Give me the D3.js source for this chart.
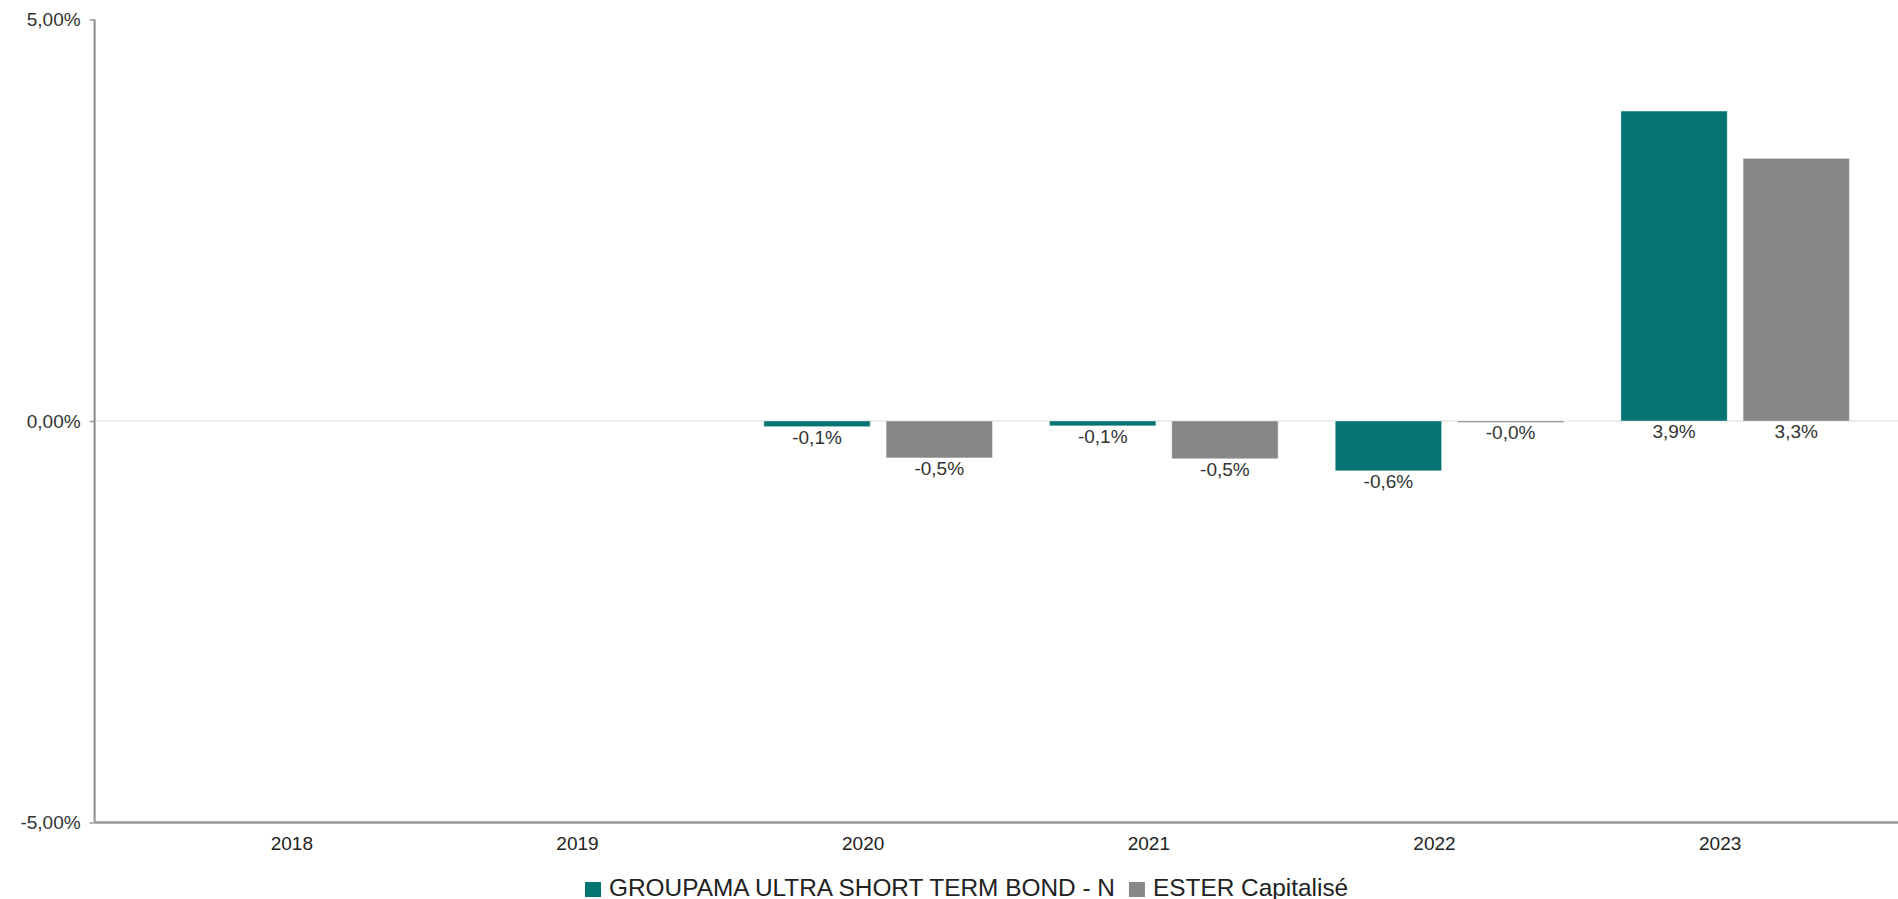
<!DOCTYPE html>
<html>
<head>
<meta charset="utf-8">
<script src="https://cdn.jsdelivr.net/npm/d3@7"></script>
<style>
  html, body { margin: 0; padding: 0; background: #fff; }
  svg { display: block; font-family: Arial, "Liberation Sans", sans-serif; }
</style>
</head>
<body>
<svg id="chart" width="1898" height="899"></svg>
<script>
// data
const years = ['2018', '2019', '2020', '2021', '2022', '2023']
const seriesNames = ['GROUPAMA ULTRA SHORT TERM BOND - N', 'ESTER Capitalisé']
const fundValues = [null, null, -0.07, -0.06, -0.62, 3.86]
const benchValues = [null, null, -0.46, -0.47, -0.01, 3.27]
const yTicks = [-5, 0, 5]
const colors = ['#037472', '#878787']

const width = 1898
const height = 899
const axisX = 94.6
const plotTop = 19.5
const plotBottom = 822.5

const fr = d3.formatLocale({ decimal: ',', thousands: ' ', grouping: [3], currency: ['', '€'], minus: '-' })
const tickFormat = v => fr.format('.2f')(v) + '%'
// keep the sign on tiny negatives, e.g. -0,0%
const valueFormat = v => (v < 0 ? '-' : '') + fr.format('.1f')(Math.abs(v)) + '%'

const rows = years.map((year, i) => ({
  year,
  values: [fundValues[i], benchValues[i]]
}))

const svg = d3.select('#chart')

const y = d3.scaleLinear().domain([-5, 5]).range([plotBottom, plotTop])

const x0 = d3.scaleBand()
  .domain(years)
  .range([164, 1878])
  .paddingInner(0.2)
  .paddingOuter(0.1)

const x1 = d3.scaleBand()
  .domain(d3.range(seriesNames.length))
  .range([0, x0.bandwidth()])
  .paddingInner(0.13)

// zero grid line
svg.append('line')
  .attr('x1', axisX).attr('x2', width)
  .attr('y1', y(0)).attr('y2', y(0))
  .attr('stroke', '#e6e6e6')
  .attr('stroke-width', 1.5)

// y axis
const yAxis = svg.append('g')
  .attr('transform', `translate(${axisX},0)`)
  .call(d3.axisLeft(y).tickValues(yTicks).tickFormat(tickFormat).tickSize(5).tickPadding(9))

yAxis.select('.domain').remove()
yAxis.selectAll('.tick line').attr('stroke', '#999').attr('stroke-width', 1.5)
yAxis.selectAll('.tick text')
  .attr('fill', '#333')
  .style('font-size', '19px')
  .style('font-family', 'Arial, "Liberation Sans", sans-serif')

svg.append('line')
  .attr('x1', axisX).attr('x2', axisX)
  .attr('y1', plotTop).attr('y2', plotBottom)
  .attr('stroke', '#8c8c8c')
  .attr('stroke-width', 2)

// x axis line
svg.append('line')
  .attr('x1', axisX).attr('x2', width)
  .attr('y1', plotBottom).attr('y2', plotBottom)
  .attr('stroke', '#999')
  .attr('stroke-width', 2.5)

// year labels
svg.append('g')
  .selectAll('text')
  .data(years)
  .enter()
  .append('text')
  .attr('x', d => x0(d) + x0.bandwidth() / 2 - 15)
  .attr('y', 850)
  .attr('text-anchor', 'middle')
  .attr('fill', '#222')
  .style('font-size', '19px')
  .text(d => d)

// bars
const groups = svg.append('g')
  .selectAll('g')
  .data(rows)
  .enter()
  .append('g')
  .attr('transform', d => `translate(${x0(d.year)},0)`)

const items = groups.selectAll('g')
  .data(d => d.values.map((v, i) => ({ v, i })).filter(e => e.v !== null))
  .enter()
  .append('g')

items.append('rect')
  .attr('x', d => x1(d.i))
  .attr('width', x1.bandwidth())
  .attr('y', d => y(Math.max(d.v, 0)))
  .attr('height', d => Math.max(1.5, Math.abs(y(d.v) - y(0))))
  .attr('fill', d => colors[d.i])
  .attr('stroke', '#fff')
  .attr('stroke-opacity', 0.4)
  .attr('stroke-width', 1)

items.append('text')
  .attr('x', d => x1(d.i) + x1.bandwidth() / 2)
  .attr('y', d => y(Math.min(d.v, 0)) + 17)
  .attr('text-anchor', 'middle')
  .attr('fill', '#333')
  .style('font-size', '19px')
  .text(d => valueFormat(d.v))

// legend
const legend = svg.append('g').attr('transform', 'translate(585,0)')
let lx = 0
seriesNames.forEach((name, i) => {
  legend.append('rect')
    .attr('x', lx).attr('y', 882)
    .attr('width', 16).attr('height', 15)
    .attr('fill', colors[i])
  const t = legend.append('text')
    .attr('x', lx + 24).attr('y', 896)
    .attr('fill', '#222')
    .style('font-size', '24.4px')
    .text(name)
  lx += 24 + t.node().getComputedTextLength() + 14
})
</script>
</body>
</html>
